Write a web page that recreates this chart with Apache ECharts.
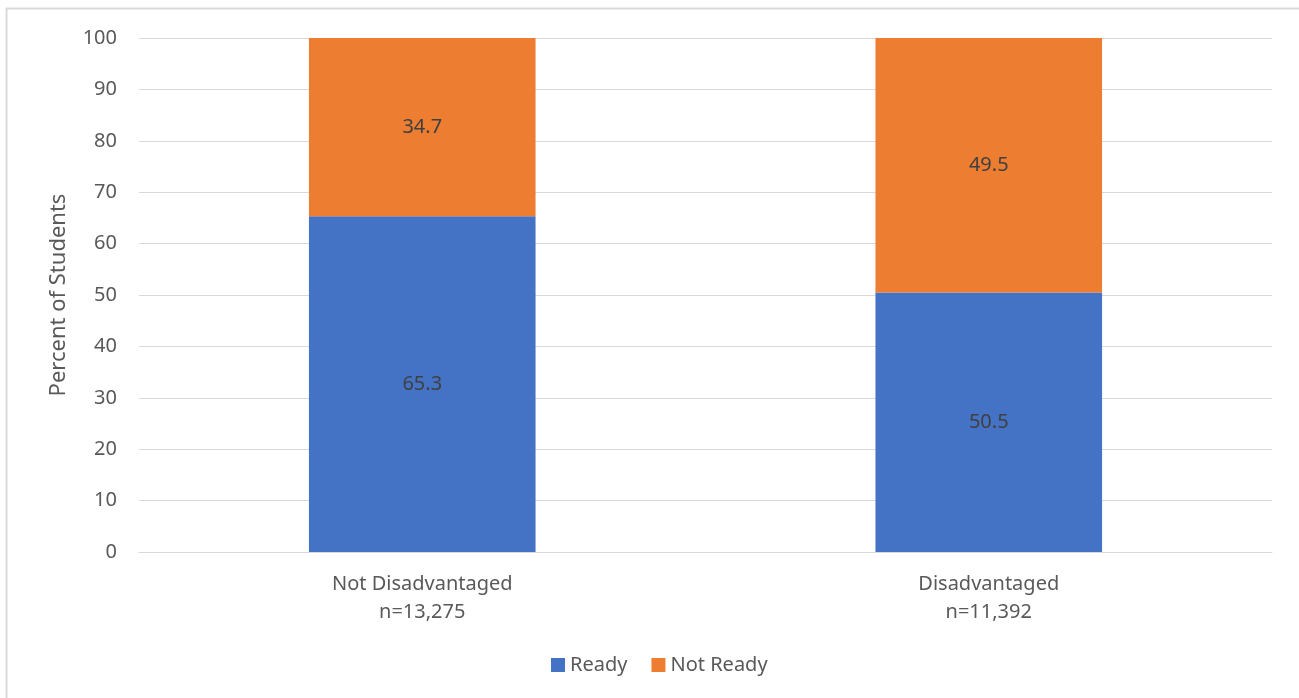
<!DOCTYPE html>
<html>
<head>
<meta charset="utf-8">
<script src="https://cdn.jsdelivr.net/npm/echarts@6/dist/echarts.min.js"></script>
<style>
  html, body { margin: 0; padding: 0; background: #fff; }
  #main { width: 1299px; height: 698px; }
</style>
</head>
<body>
<div id="main"></div>
<script>
// 数据
var categories = ['Not Disadvantaged\nn=13,275', 'Disadvantaged\nn=11,392'];
var readyValues = [65.3, 50.5];
var notReadyValues = [34.7, 49.5];
var yTicks = [0, 100, 10]; // min, max, interval

var chart = echarts.init(document.getElementById('main'));
var font = '"Noto Sans", "Open Sans", sans-serif';

var option = {
    backgroundColor: '#fff',
    animation: false,
    textStyle: { fontFamily: font },
    graphic: [{
        type: 'rect',
        shape: { x: 6.5, y: 8.5, width: 1310, height: 710 },
        style: { fill: 'none', stroke: '#d9d9d9', lineWidth: 2 },
        silent: true
    }],
    grid: {
        left: 139,
        right: 27,
        top: 38,
        bottom: 146
    },
    legend: {
        bottom: 18,
        left: 546,
        itemWidth: 14,
        itemHeight: 14,
        itemGap: 24,
        icon: 'rect',
        textStyle: { fontSize: 20, color: '#595959', fontFamily: font },
        data: ['Ready', 'Not Ready']
    },
    xAxis: {
        type: 'category',
        data: categories,
        axisLine: { lineStyle: { color: '#d9d9d9', width: 1 } },
        axisTick: { show: false },
        axisLabel: {
            fontSize: 20,
            color: '#595959',
            lineHeight: 28,
            margin: 18,
            fontFamily: font
        }
    },
    yAxis: {
        type: 'value',
        min: yTicks[0],
        max: yTicks[1],
        interval: yTicks[2],
        name: 'Percent of Students',
        nameLocation: 'middle',
        nameGap: 69,
        nameTextStyle: { fontSize: 22, color: '#595959', fontFamily: font },
        axisLine: { show: false },
        axisTick: { show: false },
        axisLabel: { fontSize: 20, color: '#595959', margin: 22, fontFamily: font },
        splitLine: { lineStyle: { color: '#d9d9d9', width: 1 } }
    },
    series: [{
        name: 'Ready',
        type: 'bar',
        stack: 'total',
        barWidth: '40%',
        itemStyle: { color: '#4472c4' },
        label: {
            show: true,
            position: 'inside',
            fontSize: 20,
            color: '#404040',
            fontFamily: font
        },
        data: readyValues
    }, {
        name: 'Not Ready',
        type: 'bar',
        stack: 'total',
        barWidth: '40%',
        itemStyle: { color: '#ed7d31' },
        label: {
            show: true,
            position: 'inside',
            fontSize: 20,
            color: '#404040',
            fontFamily: font
        },
        data: notReadyValues
    }]
};

if (option && typeof option === "object") {
    chart.setOption(option);
}
</script>
</body>
</html>
